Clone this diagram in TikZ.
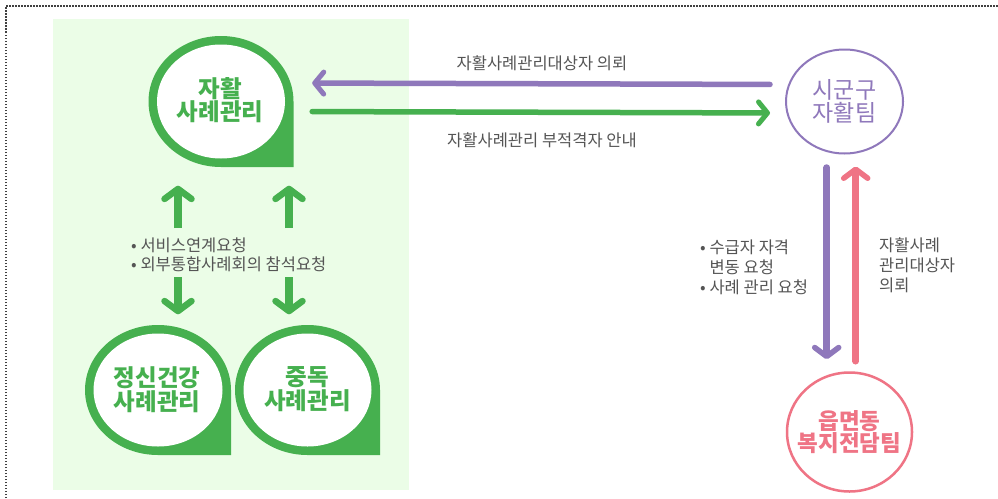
\documentclass[tikz,border=0pt]{standalone}
\usepackage{fontspec}
\setmainfont{Noto Sans CJK KR}
\usetikzlibrary{arrows.meta,shapes.geometric,calc}
\definecolor{gc}{HTML}{46B04F}
\definecolor{bgc}{HTML}{EBFDE7}
\definecolor{pc}{HTML}{8F78BB}
\definecolor{kc}{HTML}{EF7485}
\definecolor{tc}{HTML}{555555}
\begin{document}
\begin{tikzpicture}[x=1pt,y=-1pt,
  lbl/.style={text=tc,font=\fontsize{16.5}{19}\selectfont,inner sep=0pt},
  btext/.style={shape=ellipse,inner sep=0pt,align=center,text=gc,font=\fontsize{23.5}{22.5}\selectfont\bfseries},
  harr/.style={line width=5.5pt,line cap=round,-{Straight Barb[length=9pt,width=22pt,line width=5pt,round]}},
  varr/.style={line width=7.5pt,-{Straight Barb[length=10pt,width=27pt,line width=6.5pt,round]}},
  rarr/.style={line width=6.5pt,line cap=round,-{Straight Barb[length=9pt,width=24pt,line width=5.5pt,round]}}
]
\useasboundingbox (0,0) rectangle (998,498);
\fill[white] (0,0) rectangle (998,498);
\draw[black!75,line width=1.2pt,dash pattern=on 1.5pt off 1.5pt] (6,498) -- (6,6) -- (998,6);
\fill[bgc] (53,19) rectangle (409,490);
% bubbles
\foreach \cx/\cy/\rx/\ry in {221/101.5/72.5/65.5,158/390/73/65,307.5/390/72.5/65}{
  \fill[gc] (\cx+\rx,\cy) arc[start angle=360,end angle=90,x radius=\rx,y radius=\ry] -- (\cx+\rx,\cy+\ry) -- cycle;
  \fill[white] (\cx,\cy) ellipse[x radius=\rx-8.5,y radius=\ry-8.5];
}
\node[btext,minimum width=145pt,minimum height=131pt] (top) at (220,100) {자활\\사례관리};
\node[btext,minimum width=146pt,minimum height=130pt,font=\fontsize{23.5}{24}\selectfont\bfseries] (ment) at (157,389.5) {정신건강\\사례관리};
\node[btext,minimum width=145pt,minimum height=130pt,font=\fontsize{23.5}{24}\selectfont\bfseries] (addi) at (307.5,389.5) {중독\\사례관리};
% right circles
\node[shape=ellipse,draw=pc,line width=2pt,minimum width=117pt,minimum height=104pt,inner sep=-20pt,
  align=center,text=pc,font=\fontsize{23}{22.5}\selectfont] (sg) at (844.5,101.5) {시군구\\자활팀};
\node[shape=ellipse,draw=kc,line width=2.5pt,minimum width=125pt,minimum height=119pt,inner sep=-25pt,
  align=center,text=kc,font=\fontsize{22.5}{22}\selectfont\bfseries] (pd) at (849.5,432) {읍면동\\복지전담팀};
% labels
\node[lbl] (l1) at (542,63) {자활사례관리대상자 의뢰};
\node[lbl] (l2) at (542,140) {자활사례관리 부적격자 안내};
\node[lbl,align=left,anchor=west] (l3) at (131,254.5) {• 서비스연계요청\\• 외부통합사례회의 참석요청};
\node[lbl,align=left,anchor=west,font=\fontsize{16.5}{20}\selectfont] (l4) at (700,267) {• 수급자 자격\\\phantom{• }변동 요청\\• 사례 관리 요청};
\node[lbl,align=left,anchor=west,font=\fontsize{16.5}{20}\selectfont] (l5) at (879,265) {자활사례\\관리대상자\\의뢰};
% horizontal arrows
\draw[harr,draw=pc,shorten <=15pt,shorten >=19.5pt] ([yshift=17pt]sg.west) -- ([yshift=17pt]top.east);
\draw[harr,draw=gc,shorten <=19.5pt,shorten >=15pt] ([yshift=-11.5pt]top.east) -- ([yshift=-11.5pt]sg.west);
% left vertical arrows
\coordinate (xl) at (178,0);
\coordinate (xr) at (289,0);
\coordinate (u1) at (178,228);
\coordinate (u2) at (289,228);
\coordinate (d1) at (178,277);
\coordinate (d2) at (289,277);
\draw[varr,draw=gc,shorten >=20pt] (u1) -- (top.south -| xl);
\draw[varr,draw=gc,shorten >=20pt] (u2) -- (top.south -| xr);
\draw[varr,draw=gc,shorten >=10pt] (d1) -- (ment.north -| xl);
\draw[varr,draw=gc,shorten >=10pt] (d2) -- (addi.north -| xr);
% right vertical arrows
\coordinate (xa) at (826.7,0);
\coordinate (xb) at (855.7,0);
\draw[rarr,draw=pc,shorten <=13pt,shorten >=12pt] (sg.south -| xa) -- (pd.north -| xa);
\draw[rarr,draw=kc,shorten <=10pt,shorten >=12pt] (pd.north -| xb) -- (sg.south -| xb);
\end{tikzpicture}
\end{document}
